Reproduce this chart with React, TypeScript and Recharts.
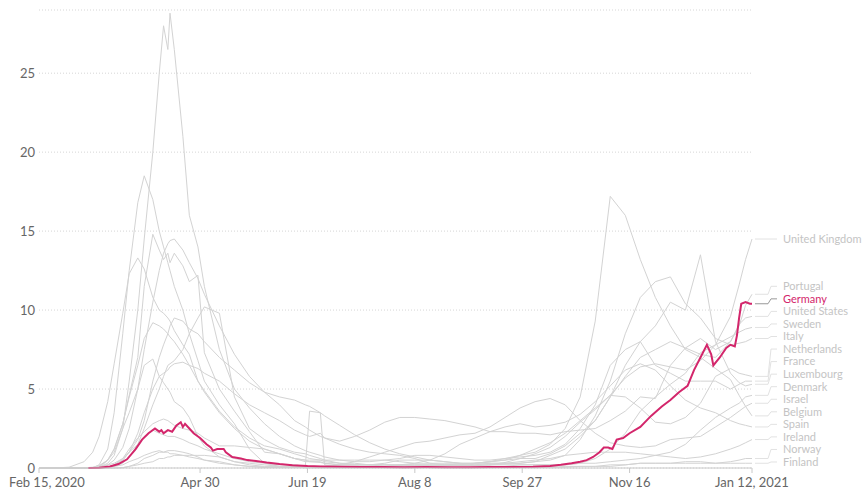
import { LineChart, Line, XAxis, YAxis, CartesianGrid } from "recharts";

// chart frame
const W = 865;
const H = 490;
const MARGIN = { top: 10, right: 113, bottom: 0, left: 0 };
const Y_AXIS_W = 39;
const X_AXIS_H = 22;
const Y_MAX = 29;
const PLOT_H = H - MARGIN.top - MARGIN.bottom - X_AXIS_H;
const LABEL_GAP = 12.55; // px between stacked end labels
const LABEL_MIN = 0.38; // lowest label position, in data units

const GREY = "#d3d3d3";
const PINK = "#d3266b";

// x = days since Feb 15, 2020
const xTickDays = [0, 75, 125, 175, 225, 275, 332];
const xTickLabels = ["Feb 15, 2020", "Apr 30", "Jun 19", "Aug 8", "Sep 27", "Nov 16", "Jan 12, 2021"];
const yTicks = [0, 5, 10, 15, 20, 25];

const days = [
  0, 7, 14, 21, 25, 28, 32, 35,
  39, 42, 46, 49, 53, 56, 58, 60, 61, 63, 67, 70, 74, 77,
  84, 91, 98, 105, 112, 119, 124, 126, 131, 133,
  140, 147, 154, 161, 168, 175, 182, 189, 196, 203, 210, 217, 224,
  231, 238, 245, 252, 259, 266, 273, 280, 287, 294, 301, 308, 315, 322, 326, 329, 332,
];

const unitedKingdom = [
  0, 0, 0, 0, 0, 0.05, 0.2, 0.5,
  1.3, 2.5, 5.0, 7.5, 10.5, 12.5, 13.6, 14.2, 14.4, 14.5, 13.8, 13.0, 12.0, 11.0,
  9.0, 7.2, 5.8, 4.8, 4.0, 3.0, 2.6, 2.4, 2.0, 1.9,
  1.5, 1.2, 1.0, 0.9, 0.8, 0.6, 0.3, 0.2, 0.15, 0.15, 0.2, 0.35, 0.6,
  0.9, 1.3, 2.0, 2.9, 3.7, 4.6, 5.7, 6.4, 6.6, 6.4, 6.2, 6.8, 7.8, 9.6, 11.6, 13.2, 14.5,
];
const portugal = [
  0, 0, 0, 0, 0, 0, 0, 0.2,
  0.6, 1.2, 1.9, 2.3, 2.8, 3.0, 3.1, 3.0, 2.9, 2.7, 2.5, 2.4, 2.2, 1.9,
  1.4, 1.4, 1.3, 1.2, 0.9, 0.6, 0.5, 0.5, 0.5, 0.5,
  0.5, 0.5, 0.5, 0.5, 0.4, 0.3, 0.3, 0.3, 0.3, 0.3, 0.4, 0.5, 0.6,
  0.6, 0.9, 1.4, 2.2, 3.0, 4.5, 5.8, 7.0, 7.5, 8.0, 7.6, 7.2, 7.0, 8.0, 9.0, 10.3, 11.0,
];
const unitedStates = [
  0, 0, 0, 0, 0, 0.01, 0.05, 0.15,
  0.5, 1.0, 2.2, 3.5, 5.0, 5.8, 6.0, 6.2, 6.4, 6.6, 6.7, 6.5, 6.3, 6.0,
  5.5, 4.7, 4.0, 3.5, 3.0, 2.4, 2.1, 2.0, 2.2, 1.9,
  1.7, 2.0, 2.4, 2.9, 3.2, 3.2, 3.1, 3.0, 2.8, 2.6, 2.3, 2.3, 2.2,
  2.2, 2.1, 2.3, 2.4, 2.5, 3.0, 3.6, 4.5, 4.4, 6.5, 7.6, 8.2, 7.5, 8.0, 9.1, 9.5, 9.6,
];
const sweden = [
  0, 0, 0, 0, 0, 0, 0.05, 0.2,
  0.5, 1.0, 1.8, 3.0, 5.5, 7.0, 7.8, 8.5, 9.0, 9.5, 9.3, 8.8, 8.5, 8.0,
  7.0, 6.2, 5.4, 4.8, 4.5, 4.3, 4.0, 3.9, 3.5, 3.3,
  2.7, 2.1, 1.6, 1.2, 0.9, 0.7, 0.5, 0.4, 0.3, 0.2, 0.2, 0.2, 0.2,
  0.2, 0.2, 0.2, 0.3, 0.6, 1.2, 2.2, 3.6, 4.5, 5.3, 6.0, 7.3, 7.8, 8.3, 8.6, 8.8, 8.9,
];
const italy = [
  0, 0, 0.05, 0.4, 1.0, 2.0, 4.2, 6.6,
  9.8, 12.3, 13.3, 12.6, 10.8, 10.0, 9.8, 9.5, 9.3, 8.7, 7.8, 7.2, 5.5, 4.9,
  3.6, 2.6, 1.9, 1.4, 1.2, 0.9, 0.7, 0.6, 0.5, 0.4,
  0.3, 0.3, 0.2, 0.2, 0.15, 0.15, 0.15, 0.15, 0.15, 0.15, 0.2, 0.25, 0.3,
  0.4, 0.5, 0.8, 1.8, 3.3, 5.5, 8.5, 10.8, 11.8, 12.1, 10.4, 9.5, 8.2, 7.8, 7.9, 8.0, 8.2,
];
const netherlands = [
  0, 0, 0, 0, 0, 0.1, 0.5, 1.2,
  2.8, 4.5, 6.5, 8.2, 9.2, 9.0, 8.8, 8.5, 8.3, 8.0, 7.2, 6.5, 5.5, 4.8,
  3.5, 2.5, 1.7, 1.2, 0.9, 0.6, 0.5, 0.4, 0.35, 0.3,
  0.2, 0.2, 0.2, 0.2, 0.2, 0.2, 0.2, 0.2, 0.25, 0.3, 0.4, 0.5, 0.8,
  1.2, 1.6, 2.2, 3.0, 3.8, 4.6, 4.5, 3.8, 2.9, 2.8, 3.2, 4.1, 5.8, 6.3, 6.0, 5.9, 5.8,
];
const france = [
  0, 0, 0, 0.01, 0.05, 0.15, 0.5, 1.2,
  2.8, 4.6, 7.0, 11.5, 14.8, 13.8, 13.2, 13.6, 13.0, 13.6, 12.8, 11.8, 12.2, 7.3,
  5.0, 3.6, 2.3, 1.0, 0.9, 0.6, 0.4, 0.4, 0.4, 0.3,
  0.2, 0.2, 0.2, 0.2, 0.2, 0.2, 0.2, 0.2, 0.2, 0.3, 0.4, 0.6, 0.7,
  0.8, 1.0, 1.5, 2.5, 4.0, 6.5, 7.5, 8.0, 6.5, 6.0, 5.5, 5.5, 5.5, 5.0, 5.3, 5.5, 5.5,
];
const luxembourg = [
  0, 0, 0, 0, 0, 0, 0.5, 1.0,
  2.5, 3.5, 5.0, 6.5, 6.9, 5.8, 5.4, 5.0, 4.8, 4.2, 3.8, 3.2, 2.0, 1.4,
  0.7, 0.4, 0.2, 0.1, 0.1, 0.1, 0.1, 0.1, 0.1, 0.1,
  0.2, 0.2, 0.2, 0.3, 0.5, 0.5, 0.5, 0.4, 0.3, 0.3, 0.3, 0.3, 0.3,
  0.4, 0.8, 1.2, 2.0, 3.0, 4.5, 6.5, 8.0, 9.0, 10.5, 10.0, 13.5, 8.0, 6.0, 5.4, 5.2, 5.3,
];
const denmark = [
  0, 0, 0, 0, 0, 0.05, 0.2, 0.3,
  0.6, 1.0, 1.5, 2.0, 2.4, 2.2, 2.1, 2.0, 2.0, 2.0, 1.8, 1.6, 1.4, 1.2,
  0.9, 0.6, 0.4, 0.3, 0.2, 0.2, 0.1, 0.1, 0.1, 0.1,
  0.05, 0.05, 0.05, 0.05, 0.05, 0.05, 0.05, 0.05, 0.05, 0.05, 0.1, 0.1, 0.2,
  0.2, 0.2, 0.2, 0.3, 0.3, 0.4, 0.5, 0.6, 0.8, 1.0, 1.5, 2.4, 3.2, 3.8, 4.1, 4.5, 4.6,
];
const israel = [
  0, 0, 0, 0, 0, 0, 0, 0,
  0.02, 0.1, 0.3, 0.6, 0.8, 1.0, 1.0, 1.1, 1.1, 1.1, 1.0, 0.9, 0.7, 0.5,
  0.4, 0.2, 0.1, 0.05, 0.05, 0.05, 0.05, 0.1, 0.1, 0.1,
  0.2, 0.4, 0.7, 1.0, 1.3, 1.6, 1.7, 1.9, 2.1, 2.2, 2.6, 3.2, 3.8,
  4.2, 4.4, 4.0, 3.0, 2.2, 1.6, 1.4, 1.3, 1.4, 1.8, 1.9, 2.0, 2.6, 3.2, 3.6, 3.9, 4.1,
];
const belgium = [
  0, 0, 0, 0, 0, 0.05, 0.3, 0.8,
  2.5, 5.5, 10.0, 14.5, 20.0, 25.0, 28.0, 26.5, 28.8, 26.5, 21.0, 16.0, 14.0, 11.5,
  7.5, 5.0, 3.8, 2.8, 2.0, 1.4, 1.1, 1.0, 0.8, 0.7,
  0.5, 0.4, 0.4, 0.5, 0.6, 0.8, 0.8, 0.7, 0.6, 0.5, 0.5, 0.6, 0.8,
  1.0, 1.5, 2.5, 4.5, 9.3, 17.2, 16.0, 13.2, 10.8, 9.0, 7.5, 7.0, 6.3, 5.6, 4.6, 3.9, 3.3,
];
const spain = [
  0, 0, 0, 0, 0.02, 0.2, 1.2, 3.5,
  8.5, 12.5, 16.8, 18.5, 17.0, 15.0, 14.0, 13.0, 12.5, 11.5, 10.0, 8.5, 6.8, 5.5,
  4.0, 2.8, 1.2, 0.3, 0.1, 0.1, 0.1, 3.6, 3.5, 0.2,
  0.1, 0.1, 0.1, 0.1, 0.2, 0.3, 0.5, 0.9, 1.5, 1.9, 2.3, 2.6, 2.8,
  2.6, 2.7, 2.9, 3.4, 4.2, 5.2, 6.2, 6.6, 6.2, 5.2, 4.3, 3.8, 3.5, 3.0, 2.8, 2.7, 2.6,
];
const ireland = [
  0, 0, 0, 0, 0, 0.02, 0.05, 0.1,
  0.3, 0.7, 1.5, 2.5, 4.0, 5.0, 5.8, 6.5, 6.6, 6.8, 7.5, 8.5, 9.5, 10.2,
  9.8, 4.5, 2.5, 1.8, 1.3, 1.0, 0.9, 0.8, 0.6, 0.5,
  0.3, 0.2, 0.2, 0.1, 0.1, 0.1, 0.1, 0.1, 0.2, 0.2, 0.3, 0.3, 0.4,
  0.5, 0.6, 0.8, 0.9, 1.0, 1.0, 1.0, 0.9, 0.8, 0.7, 0.6, 0.7, 0.9, 1.2, 1.4, 1.6, 1.8,
];
const norway = [
  0, 0, 0, 0, 0, 0, 0.05, 0.1,
  0.2, 0.4, 0.6, 0.8, 1.0, 1.1, 1.0, 1.0, 0.9, 0.9, 0.8, 0.7, 0.6, 0.5,
  0.3, 0.2, 0.1, 0.05, 0.05, 0.05, 0.02, 0.02, 0.02, 0.02,
  0.02, 0.02, 0.02, 0.02, 0.02, 0.02, 0.02, 0.02, 0.02, 0.02, 0.02, 0.05, 0.05,
  0.05, 0.05, 0.1, 0.1, 0.1, 0.2, 0.2, 0.3, 0.3, 0.3, 0.3, 0.3, 0.3, 0.4, 0.5, 0.6, 0.6,
];
const finland = [
  0, 0, 0, 0, 0, 0, 0, 0,
  0.02, 0.1, 0.2, 0.3, 0.4, 0.6, 0.6, 0.7, 0.7, 0.8, 0.8, 0.8, 0.8, 0.8,
  0.7, 0.4, 0.3, 0.2, 0.1, 0.05, 0.02, 0.02, 0.02, 0.02,
  0.02, 0.02, 0.02, 0.02, 0.02, 0.02, 0.02, 0.02, 0.02, 0.02, 0.02, 0.02, 0.02,
  0.02, 0.05, 0.05, 0.1, 0.1, 0.1, 0.2, 0.3, 0.3, 0.3, 0.4, 0.4, 0.3, 0.3, 0.3, 0.3, 0.3,
];

// Germany (highlighted) has its own, finer day grid
const germanyDays = [
  23, 28, 33, 37, 41, 45, 48, 51, 54, 56,
  57, 58, 60, 62, 64, 66, 67, 68, 70, 72,
  75, 78, 80, 81, 83, 86, 87, 90, 94, 97,
  101, 106, 112, 118, 125, 131, 140, 150, 160, 170,
  180, 190, 200, 210, 220, 230, 238, 243, 248, 252,
  255, 258, 261, 263, 265, 267, 269, 272, 275, 280,
  285, 290, 294, 298, 302, 305, 308, 311, 313, 314,
  317, 320, 322, 324, 325, 326, 327, 329, 331, 332,
];
const germany = [
  0, 0.01, 0.1, 0.25, 0.55, 1.2, 1.8, 2.2, 2.5, 2.3,
  2.4, 2.2, 2.4, 2.3, 2.7, 2.9, 2.6, 2.8, 2.5, 2.2,
  1.9, 1.5, 1.3, 1.1, 1.2, 1.2, 1.0, 0.7, 0.6, 0.5,
  0.45, 0.35, 0.25, 0.17, 0.12, 0.1, 0.08, 0.06, 0.06, 0.05,
  0.06, 0.05, 0.05, 0.06, 0.06, 0.08, 0.12, 0.2, 0.3, 0.4,
  0.5, 0.7, 1.0, 1.3, 1.3, 1.2, 1.8, 1.9, 2.2, 2.6,
  3.3, 3.9, 4.3, 4.8, 5.2, 6.2, 7.0, 7.8, 7.2, 6.5,
  7.0, 7.6, 7.8, 7.7, 8.4, 9.5, 10.4, 10.5, 10.4, 10.4,
];

const greyCountries: [string, number[]][] = [
  ["United Kingdom", unitedKingdom],
  ["Portugal", portugal],
  ["United States", unitedStates],
  ["Sweden", sweden],
  ["Italy", italy],
  ["Netherlands", netherlands],
  ["France", france],
  ["Luxembourg", luxembourg],
  ["Denmark", denmark],
  ["Israel", israel],
  ["Belgium", belgium],
  ["Spain", spain],
  ["Ireland", ireland],
  ["Norway", norway],
  ["Finland", finland],
];

const toSeries = (ds: number[], vals: number[]) => ds.map((day, i) => ({ day, v: vals[i] }));

// stack the end labels bottom-up so they don't overlap
const gapV = (LABEL_GAP * Y_MAX) / PLOT_H;
const endValues = [
  ...greyCountries.map(([name, vals]) => ({ name, end: vals[vals.length - 1] })),
  { name: "Germany", end: germany[germany.length - 1] },
].sort((a, b) => a.end - b.end);
const labelValue: Record<string, number> = {};
let prevLabel = -Infinity;
for (const s of endValues) {
  const v = Math.max(s.end, LABEL_MIN, prevLabel + gapV);
  labelValue[s.name] = v;
  prevLabel = v;
}

const endLabel = (name: string, lastIdx: number, color: string, lead: string) => (p: any) => {
  if (p.index !== lastIdx) return <g key={`${name}-${p.index}`} />;
  const ly = p.cy + ((p.payload.v - labelValue[name]) * PLOT_H) / Y_MAX;
  return (
    <g key={`${name}-end`}>
      <polyline
        points={`${p.cx + 3},${p.cy} ${p.cx + 16},${p.cy} ${p.cx + 19},${ly} ${p.cx + 25},${ly}`}
        fill="none"
        stroke={lead}
        strokeWidth={1}
      />
      <text x={p.cx + 31} y={ly} dy="0.35em" fontSize={11} fontFamily="Lato" fill={color}>
        {name}
      </text>
    </g>
  );
};

const tickStyle = { fill: "#666", fontSize: 13, fontFamily: "Lato" };

// first date label is nudged right a little, as in the original
const XTick = (p: any) => (
  <text
    x={p.x + (p.index === 0 ? 8 : 0)}
    y={p.y + 1}
    dy="0.71em"
    textAnchor="middle"
    {...tickStyle}
  >
    {xTickLabels[xTickDays.indexOf(p.payload.value)]}
  </text>
);

export default function App() {
  return (
    <div style={{ position: "absolute", left: 0, top: 0, width: W, height: H, background: "#fff" }}>
      <LineChart width={W} height={H} margin={MARGIN}>
        <CartesianGrid vertical={false} stroke="#d6d6d6" strokeDasharray="1 2" />
        <XAxis
          type="number"
          dataKey="day"
          domain={[0, 332]}
          ticks={xTickDays}
          interval={0}
          height={X_AXIS_H}
          stroke="#c8c8c8"
          tickSize={5}
          tickMargin={4}
          tick={<XTick />}
        />
        <YAxis
          type="number"
          domain={[0, Y_MAX]}
          ticks={yTicks}
          width={Y_AXIS_W}
          axisLine={false}
          tickLine={false}
          tickSize={0}
          tickMargin={4}
          tick={tickStyle}
        />
        {greyCountries.map(([name, vals]) => (
          <Line
            key={name}
            data={toSeries(days, vals)}
            dataKey="v"
            type="linear"
            stroke={GREY}
            strokeWidth={1}
            dot={endLabel(name, days.length - 1, "#c4c4c4", "#e2e2e2")}
            activeDot={false}
            isAnimationActive={false}
          />
        ))}
        <Line
          data={toSeries(germanyDays, germany)}
          dataKey="v"
          type="linear"
          stroke={PINK}
          strokeWidth={2}
          dot={endLabel("Germany", germanyDays.length - 1, PINK, "#999")}
          activeDot={false}
          isAnimationActive={false}
        />
      </LineChart>
    </div>
  );
}
